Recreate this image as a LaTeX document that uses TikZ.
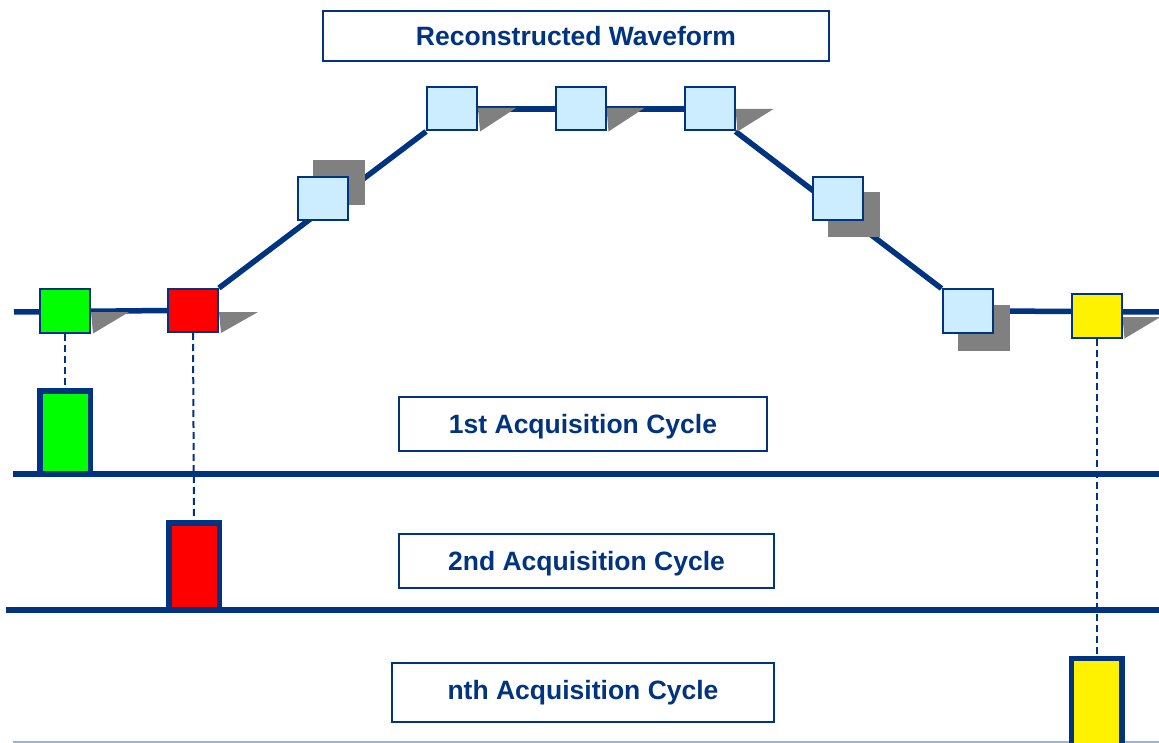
\documentclass[tikz,border=0pt]{standalone}
\usepackage{fontspec}
\setmainfont{Liberation Sans}
\usetikzlibrary{calc}
\definecolor{navy}{RGB}{0,51,128}
\definecolor{ltblue}{RGB}{204,236,255}
\definecolor{shdgray}{RGB}{128,128,128}
\definecolor{baseblue}{RGB}{157,179,211}
\tikzset{
  lbl/.style={draw=navy, line width=2pt, fill=white, text=navy, inner sep=0pt, text depth=0pt,
    font=\fontsize{26.5}{30}\selectfont\bfseries},
  sq/.style={draw=navy, line width=2pt, inner sep=0pt, minimum width=50pt, minimum height=43pt},
  bar/.style={draw=navy, line width=5.5pt, inner sep=0pt, minimum width=50.5pt},
  wave/.style={draw=navy, line width=5.5pt},
  base/.style={draw=navy, line width=5.5pt},
  drop/.style={draw=navy, line width=2pt, dash pattern=on 7pt off 4pt},
  shd/.style={fill=shdgray},
}
\begin{document}
\begin{tikzpicture}[x=1pt,y=-1pt]
\useasboundingbox (0,0) rectangle (1159,743);
\clip (0,0) rectangle (1159,743);
% text boxes
\node[lbl, minimum width=506pt, minimum height=50pt] (title) at (576,36) {Reconstructed Waveform};
\node[lbl, minimum width=368pt, minimum height=54pt] (c1) at (583,424) {1st Acquisition Cycle};
\node[lbl, minimum width=375pt, minimum height=54pt] (c2) at (586.5,561) {2nd Acquisition Cycle};
\node[lbl, text depth=6pt, minimum width=382pt, minimum height=59pt] (cn) at (583,692.5) {nth Acquisition Cycle};
% coordinates for free ends
\coordinate (ws) at (14,312);
\coordinate (we) at (1159,312);
\coordinate (b1s) at (13,474);
\coordinate (b1e) at (1159,474);
\coordinate (b2s) at (6,610);
\coordinate (b2e) at (1159,610);
\coordinate (b3s) at (13,742);
\coordinate (b3e) at (1159,742);
% square positions
\path
  (65,311) coordinate (pg)
  (193,310.5) coordinate (pr)
  (323,199) coordinate (pa)
  (452,109) coordinate (pb)
  (580.5,109) coordinate (pc)
  (709.5,109) coordinate (pd)
  (838,199) coordinate (pe)
  (967.5,311) coordinate (pf)
  (1096.5,316) coordinate (py);
% invisible nodes to get anchors
\node[sq, draw=none] (g) at (pg) {};
\node[sq, draw=none] (r) at (pr) {};
\node[sq, draw=none] (A) at (pa) {};
\node[sq, draw=none] (B) at (pb) {};
\node[sq, draw=none] (C) at (pc) {};
\node[sq, draw=none] (D) at (pd) {};
\node[sq, draw=none] (E) at (pe) {};
\node[sq, draw=none] (F) at (pf) {};
\node[sq, draw=none] (Y) at (py) {};
% waveform lines
\draw[wave] (ws) -- (r.west);
\draw[wave] (r.north east) -- (B.south west);
\draw[wave] (B.east) -- (D.west);
\draw[wave] (D.south east) -- (F.north west);
\draw[wave] (F.east) -- (we);
% shadows
\fill[shd] ($(g.east)+(0,1)$) -- ++(38,0) -- ($(g.south east)+(2,0)$) -- cycle;
\fill[shd] ($(r.east)+(0,1.5)$) -- ++(39,0) -- ($(r.south east)+(2,0)$) -- cycle;
\fill[shd] ($(B.east)+(0,-1)$) -- ++(38,0) -- ($(B.south east)+(2,0)$) -- cycle;
\fill[shd] ($(C.east)+(0,-1)$) -- ++(38,0) -- ($(C.south east)+(2,0)$) -- cycle;
\fill[shd] ($(D.east)+(0,0)$) -- ++(38,0) -- ($(D.south east)+(2,0)$) -- cycle;
\fill[shd] ($(Y.east)+(0,1)$) -- ++(38,0) -- ($(Y.south east)+(2,0)$) -- cycle;
\fill[shd] ($(A.south west)+(16,-16)$) rectangle ($(A.north east)+(16,-16)$);
\fill[shd] ($(E.south west)+(16,16)$) rectangle ($(E.north east)+(16,16)$);
\fill[shd] ($(F.south west)+(16,17)$) rectangle ($(F.north east)+(16,17)$);
% squares
\node[sq, fill=green] at (pg) {};
\node[sq, fill=red] at (pr) {};
\node[sq, fill=ltblue] at (pa) {};
\node[sq, fill=ltblue] at (pb) {};
\node[sq, fill=ltblue] at (pc) {};
\node[sq, fill=ltblue] at (pd) {};
\node[sq, fill=ltblue] at (pe) {};
\node[sq, fill=ltblue] at (pf) {};
\node[sq, fill=yellow] at (py) {};
% baselines
\draw[base] (b1s) -- (b1e);
\draw[base] (b2s) -- (b2e);
\draw[draw=baseblue, line width=1.5pt] (b3s) -- (b3e);
% bars
\node[bar, fill=green, minimum height=82.5pt] (gb) at (65,432) {};
\node[bar, fill=red, minimum height=86.5pt] (rb) at (194,566) {};
\node[bar, fill=yellow, minimum height=99pt] (yb) at (1096.5,708) {};
% drop lines
\draw[drop] (g.south) -- (gb.north);
\draw[drop] (r.south) -- (rb.north);
\draw[drop] (Y.south) -- (yb.north);
\end{tikzpicture}
\end{document}
